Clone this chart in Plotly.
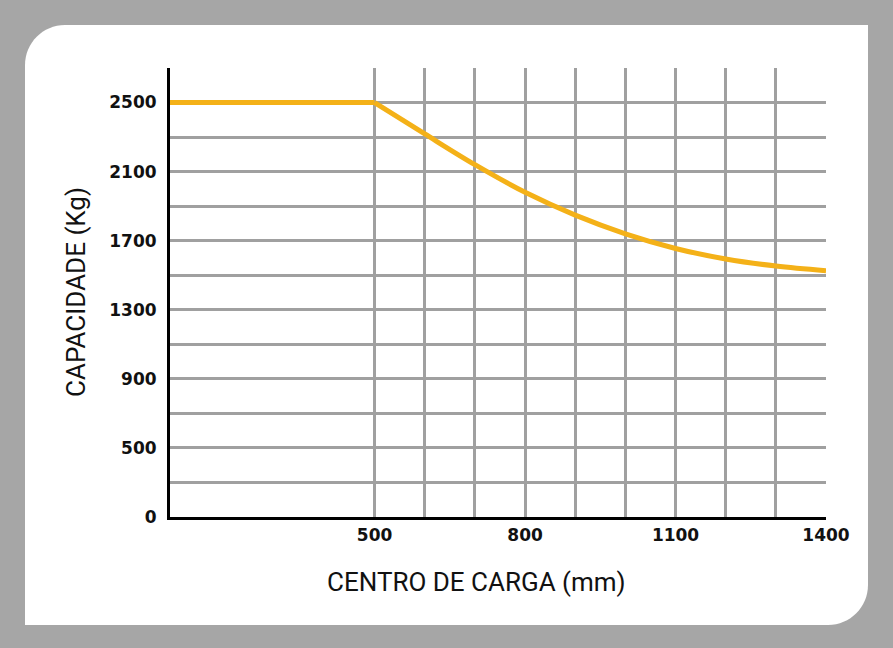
import plotly.graph_objects as go

# ---- data ----
centro_mm = [92, 500, 600, 700, 800, 900, 1000, 1100, 1200, 1300, 1400]
capacidade_kg = [2500, 2500, 2318, 2140, 1980, 1848, 1740, 1655, 1594, 1553, 1526]

x_tick_vals = [500, 600, 700, 800, 900, 1000, 1100, 1200, 1300, 1400]
x_tick_labels = ["500", "", "", "800", "", "", "1100", "", "", "1400"]

y_tick_vals = [100, 300, 500, 700, 900, 1100, 1300, 1500, 1700, 1900, 2100, 2300, 2500, 2700]
y_tick_labels = ["0", "", "500", "", "900", "", "1300", "", "1700", "", "2100", "", "2500", ""]

x_title = "CENTRO DE CARGA (mm)"
y_title = "CAPACIDADE (Kg)"

# ---- layout geometry (pixels) ----
W, H = 893, 648
L, R, T, B = 170, 826, 68, 517


def px(x):
    return (x - L) / (R - L)


def py(y):
    return (B - y) / (B - T)


# rounded card (top-left and bottom-right corners rounded)
cx0, cx1, cy0, cy1, rad = 25, 868, 25, 625, 40
k = 0.5523 * rad
card = (
    f"M {px(cx0)},{py(cy1)} "
    f"L {px(cx0)},{py(cy0 + rad)} "
    f"C {px(cx0)},{py(cy0 + rad - k)} {px(cx0 + rad - k)},{py(cy0)} {px(cx0 + rad)},{py(cy0)} "
    f"L {px(cx1)},{py(cy0)} "
    f"L {px(cx1)},{py(cy1 - rad)} "
    f"C {px(cx1)},{py(cy1 - rad + k)} {px(cx1 - rad + k)},{py(cy1)} {px(cx1 - rad)},{py(cy1)} "
    "Z"
)

# split the series at the knee (500 mm): flat part straight, curved part smoothed
knee = centro_mm.index(500)
line_style = dict(color="#F4B118", width=5)

fig = go.Figure()
fig.add_trace(go.Scatter(
    x=centro_mm[:knee + 1], y=capacidade_kg[:knee + 1], mode="lines",
    line=line_style, hoverinfo="skip", showlegend=False,
))
fig.add_trace(go.Scatter(
    x=centro_mm[knee:], y=capacidade_kg[knee:], mode="lines",
    line=dict(**line_style, shape="spline", smoothing=1.0),
    hoverinfo="skip", showlegend=False,
))

tick_font = dict(family="DejaVu Sans", size=17, color="#111111", weight="bold")

fig.update_layout(
    width=W, height=H,
    margin=dict(l=L, r=W - R, t=T, b=H - B, pad=0),
    paper_bgcolor="#a6a6a6",
    plot_bgcolor="white",
    showlegend=False,
    shapes=[dict(type="path", path=card, xref="paper", yref="paper",
                 fillcolor="white", line=dict(width=0), layer="below")],
    xaxis=dict(
        range=[centro_mm[0], 1400],
        tickmode="array", tickvals=x_tick_vals, ticktext=x_tick_labels,
        showgrid=True, gridcolor="#a0a0a0", gridwidth=2.5,
        showline=True, linecolor="black", linewidth=3,
        zeroline=False, ticks="outside", ticklen=1, tickcolor="rgba(0,0,0,0)",
        tickfont=tick_font, fixedrange=True,
    ),
    yaxis=dict(
        range=[100, 2700],
        tickmode="array", tickvals=y_tick_vals, ticktext=y_tick_labels,
        showgrid=True, gridcolor="#a0a0a0", gridwidth=2.5,
        showline=True, linecolor="black", linewidth=3,
        zeroline=False, ticks="outside", ticklen=7, tickcolor="rgba(0,0,0,0)",
        tickfont=tick_font, fixedrange=True,
    ),
    annotations=[
        dict(text=x_title, xref="paper", yref="paper", x=px(476), y=py(582),
             xanchor="center", yanchor="middle", showarrow=False,
             font=dict(family="Roboto", size=26, color="#111111")),
        dict(text=y_title, xref="paper", yref="paper", x=px(76), y=py(292),
             xanchor="center", yanchor="middle", showarrow=False, textangle=-90,
             font=dict(family="Roboto", size=26, color="#111111")),
    ],
)

fig.write_html(
    "out.html",
    config={"displayModeBar": False},
    post_script="document.body.style.margin='0';document.body.style.background='#a6a6a6';",
)
